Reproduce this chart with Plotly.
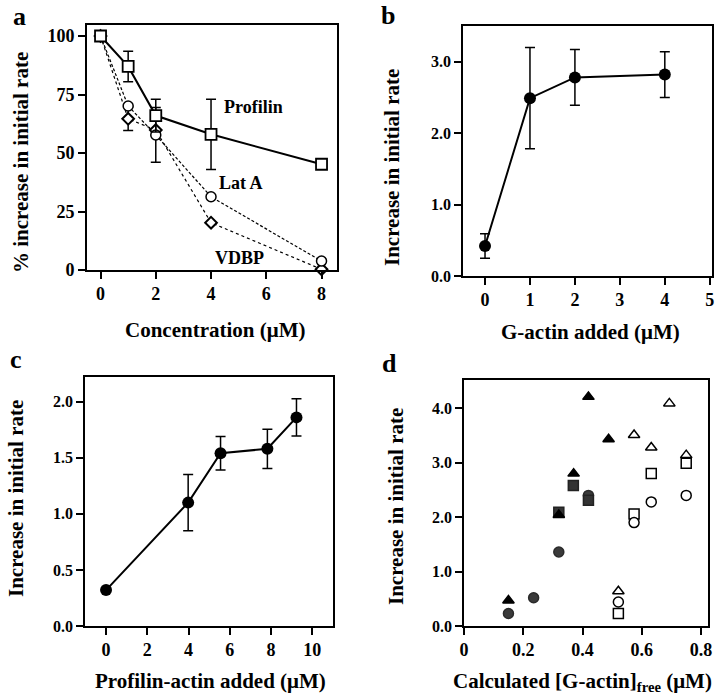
import plotly.graph_objects as go

# ---------------- data ----------------
# panel a
a_conc = [0, 1, 2, 4, 8]
a_profilin = [100, 87, 66, 58, 45.2]
a_profilin_err = [0, 6.5, 7, 15, 0]
a_lata = [100, 70.1, 57.7, 31.3, 3.8]
a_lata_err = [0, 0, 11.7, 0, 0]
a_vdbp = [100, 64.6, 59.8, 20.2, 0.3]
a_vdbp_err = [0, 5, 0, 0, 0]

# panel b
b_gactin = [0, 1, 2, 4]
b_rate = [0.42, 2.49, 2.78, 2.82]
b_err = [0.17, 0.71, 0.39, 0.32]

# panel c
c_pa = [0, 3.98, 5.55, 7.82, 9.23]
c_rate = [0.32, 1.10, 1.54, 1.58, 1.86]
c_err = [0, 0.25, 0.15, 0.175, 0.165]

# panel d
d_tri_f_x = [0.15, 0.32, 0.37, 0.42, 0.488]
d_tri_f_y = [0.47, 2.04, 2.80, 4.21, 3.43]
d_sq_f_x = [0.32, 0.369, 0.42]
d_sq_f_y = [2.09, 2.58, 2.31]
d_ci_f_x = [0.15, 0.235, 0.32, 0.42]
d_ci_f_y = [0.23, 0.52, 1.36, 2.40]
d_tri_o_x = [0.521, 0.574, 0.632, 0.693, 0.75]
d_tri_o_y = [0.64, 3.51, 3.28, 4.09, 3.14]
d_sq_o_x = [0.521, 0.574, 0.632, 0.75]
d_sq_o_y = [0.23, 2.06, 2.80, 2.99]
d_ci_o_x = [0.521, 0.574, 0.632, 0.75]
d_ci_o_y = [0.44, 1.90, 2.28, 2.40]

SERIF = "Liberation Serif, Times New Roman, Times, serif"
W, H = 720, 698


def px(x):
    return x / W


def py(y):
    return 1 - y / H


fig = go.Figure()

# ---------------- panel a ----------------
fig.add_trace(go.Scatter(
    x=a_conc, y=a_vdbp, xaxis="x", yaxis="y", mode="lines+markers",
    line=dict(color="black", width=1.2, dash="dot"),
    marker=dict(symbol="diamond", size=9, color="white", line=dict(color="black", width=2)),
    error_y=dict(type="data", array=a_vdbp_err, color="black", thickness=1.5, width=5),
    cliponaxis=False, showlegend=False))
fig.add_trace(go.Scatter(
    x=a_conc, y=a_lata, xaxis="x", yaxis="y", mode="lines+markers",
    line=dict(color="black", width=1.2, dash="3px,2px"),
    marker=dict(symbol="circle", size=10, color="white", line=dict(color="black", width=1.5)),
    error_y=dict(type="data", array=a_lata_err, color="black", thickness=1.5, width=5),
    cliponaxis=False, showlegend=False))
fig.add_trace(go.Scatter(
    x=a_conc, y=a_profilin, xaxis="x", yaxis="y", mode="lines+markers",
    line=dict(color="black", width=2),
    marker=dict(symbol="square", size=11, color="white", line=dict(color="black", width=1.8)),
    error_y=dict(type="data", array=a_profilin_err, color="black", thickness=1.5, width=5),
    cliponaxis=False, showlegend=False))

# ---------------- panel b ----------------
fig.add_trace(go.Scatter(
    x=b_gactin, y=b_rate, xaxis="x2", yaxis="y2", mode="lines+markers",
    line=dict(color="black", width=2),
    marker=dict(symbol="circle", size=12, color="black"),
    error_y=dict(type="data", array=b_err, color="black", thickness=1.5, width=5),
    cliponaxis=False, showlegend=False))

# ---------------- panel c ----------------
fig.add_trace(go.Scatter(
    x=c_pa, y=c_rate, xaxis="x3", yaxis="y3", mode="lines+markers",
    line=dict(color="black", width=2),
    marker=dict(symbol="circle", size=12, color="black"),
    error_y=dict(type="data", array=c_err, color="black", thickness=1.5, width=5),
    cliponaxis=False, showlegend=False))

# ---------------- panel d ----------------
d_series = [
    (d_ci_f_x, d_ci_f_y, "circle", "#3a3a3a", "#2a2a2a"),
    (d_sq_f_x, d_sq_f_y, "square", "#333333", "#222222"),
    (d_tri_f_x, d_tri_f_y, "triangle-up", "black", "black"),
    (d_tri_o_x, d_tri_o_y, "triangle-up", "white", "black"),
    (d_sq_o_x, d_sq_o_y, "square", "white", "black"),
    (d_ci_o_x, d_ci_o_y, "circle", "white", "black"),
]
for xs, ys, sym, fill, edge in d_series:
    fig.add_trace(go.Scatter(
        x=xs, y=ys, xaxis="x4", yaxis="y4", mode="markers",
        marker=dict(symbol=sym, size=10, color=fill, line=dict(color=edge, width=1.5)),
        cliponaxis=False, showlegend=False))


def axis(domain, rng, anchor, tickvals, ticktext, size):
    return dict(
        domain=domain, range=rng, anchor=anchor, automargin=False,
        tickvals=tickvals, ticktext=ticktext, tickmode="array",
        showline=True, mirror=True, linecolor="black", linewidth=1.6,
        ticks="outside", ticklen=7, tickwidth=1.5, tickcolor="black",
        showgrid=False, zeroline=False,
        tickfont=dict(family=SERIF, size=size, color="black", weight="bold"),
    )


layout = dict(
    template="none",
    width=W, height=H,
    margin=dict(l=0, r=0, t=0, b=0, pad=0),
    paper_bgcolor="white", plot_bgcolor="white",
    showlegend=False,
    xaxis=axis([px(87), px(337)], [-0.49, 8.56], "y",
               [0, 2, 4, 6, 8], ["0", "2", "4", "6", "8"], 18),
    yaxis=axis([py(270), py(25)], [0, 104.7], "x",
               [0, 25, 50, 75, 100], ["0", "25", "50", "75", "100"], 18),
    xaxis2=axis([px(463), px(712)], [-0.49, 5.05], "y2",
                [0, 1, 2, 3, 4, 5], ["0", "1", "2", "3", "4", "5"], 18),
    yaxis2=axis([py(276), py(26)], [0, 3.5], "x2",
                [0, 1, 2, 3], ["0.0", "1.0", "2.0", "3.0"], 16),
    xaxis3=axis([px(85), px(333)], [-1.02, 11.0], "y3",
                [0, 2, 4, 6, 8, 10], ["0", "2", "4", "6", "8", "10"], 18),
    yaxis3=axis([py(626), py(377)], [0, 2.22], "x3",
                [0, 0.5, 1, 1.5, 2], ["0.0", "0.5", "1.0", "1.5", "2.0"], 16),
    xaxis4=axis([px(464), px(708)], [0, 0.8235], "y4",
                [0, 0.2, 0.4, 0.6, 0.8], ["0", "0.2", "0.4", "0.6", "0.8"], 18),
    yaxis4=axis([py(626), py(380)], [0, 4.52], "x4",
                [0, 1, 2, 3, 4], ["0.0", "1.0", "2.0", "3.0", "4.0"], 16),
)
fig.update_layout(**layout)

TF = dict(family=SERIF, size=21, color="black", weight="bold")
LF = dict(family=SERIF, size=18, color="black", weight="bold")
PF = dict(family=SERIF, size=26, color="black", weight="bold")

ann = []
# panel letters
for letter, x, y in [("a", 19, 17), ("b", 388, 16), ("c", 16, 359), ("d", 389, 364)]:
    ann.append(dict(text=letter, x=px(x), y=py(y), xref="paper", yref="paper",
                    showarrow=False, font=PF, xanchor="center", yanchor="middle"))
# axis titles
titles = [
    dict(text="% increase in initial rate", x=px(21), y=py(163), textangle=-90),
    dict(text="Concentration (\u03bcM)", x=px(215), y=py(330)),
    dict(text="Increase in initial rate", x=px(392), y=py(167), textangle=-90),
    dict(text="G-actin added (\u03bcM)", x=px(590), y=py(332)),
    dict(text="Increase in initial rate", x=px(16), y=py(499), textangle=-90),
    dict(text="Profilin-actin added (\u03bcM)", x=px(210), y=py(681)),
    dict(text="Increase in initial rate", x=px(396), y=py(507), textangle=-90),
    dict(text="Calculated [G-actin]<sub>free</sub> (\u03bcM)", x=px(582), y=py(682)),
]
for a in titles:
    a.update(xref="paper", yref="paper", showarrow=False, font=TF,
             xanchor="center", yanchor="middle")
ann += titles
# in-plot labels (panel a)
for label, x, y in [("Profilin", 222, 107), ("Lat A", 217, 183), ("VDBP", 213, 258)]:
    ann.append(dict(text=label, x=px(x), y=py(y), xref="paper", yref="paper",
                    showarrow=False, font=LF, xanchor="left", yanchor="middle"))

fig.update_layout(annotations=ann)
fig.write_html(
    "out.html",
    config={"displayModeBar": False},
    post_script="document.body.style.margin='0';document.body.style.overflow='hidden';",
)
